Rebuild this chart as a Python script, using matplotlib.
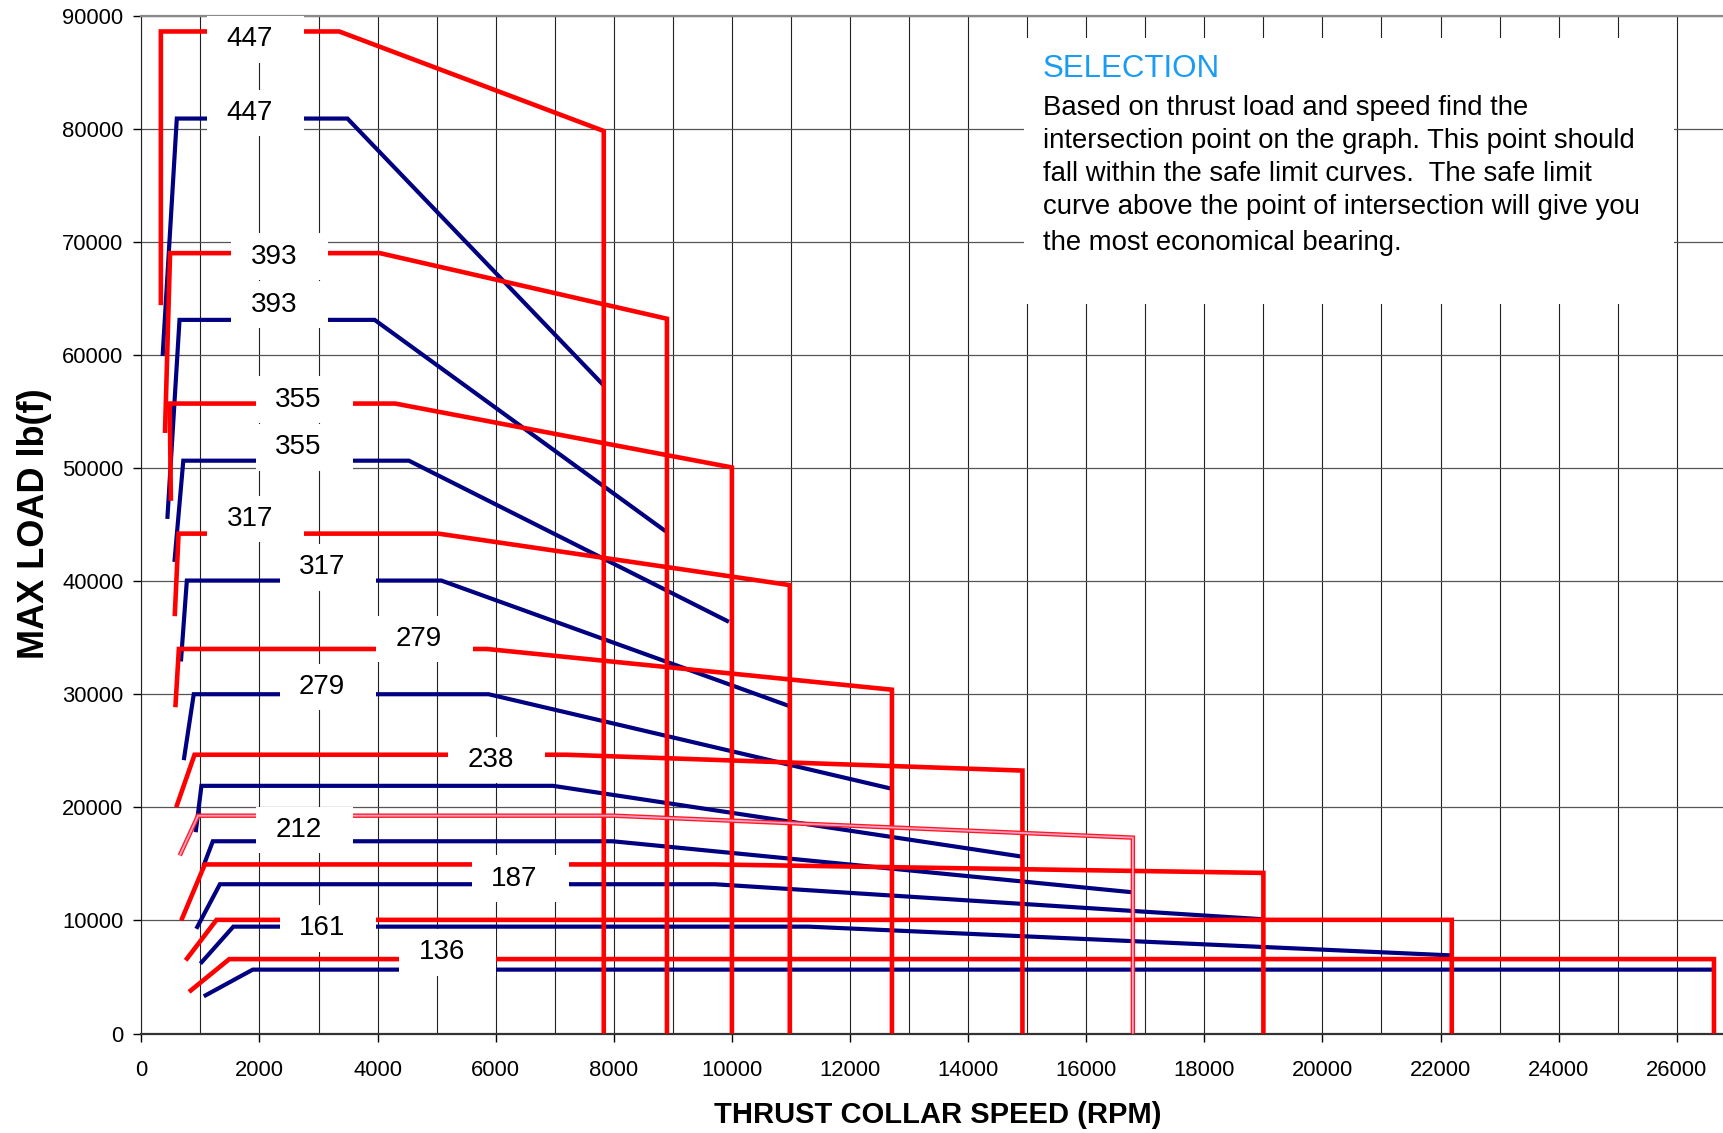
import matplotlib
matplotlib.use("Agg")
import matplotlib.pyplot as plt
from matplotlib.patches import Rectangle

plt.rcParams["font.family"] = ["Liberation Sans", "DejaVu Sans"]

# one entry per curve: start of the short ramp, knee, flat part, sloped part, limit
curve_kind = ["red", "blue"] * 5 + ["red", "blue", "pink", "blue",
                                    "red", "blue", "red", "blue", "red", "blue"]
start_rpm = [330, 360, 400, 440, 500, 560, 565, 670, 576, 718,
             590, 920, 650, 1050, 676, 930, 750, 1000, 807, 1057]
start_load = [64400, 59900, 53100, 45500, 47100, 41700, 36900, 32900, 28850, 24170,
              20000, 17800, 15740, 14800, 10000, 9260, 6470, 6180, 3680, 3290]
knee_rpm = [330, 600, 486, 646, 480, 710, 630, 770, 635, 887,
            900, 1017, 960, 1210, 1074, 1330, 1273, 1557, 1489, 1886]
flat_load = [88600, 80900, 69000, 63100, 55700, 50650, 44200, 40050, 34000, 30000,
             24650, 21900, 19260, 17000, 14950, 13200, 10050, 9450, 6580, 5650]
flat_end_rpm = [3350, 3490, 4040, 3950, 4300, 4530, 5030, 5080, 5850, 5880,
                7200, 6970, 8000, 7980, 9700, 9710, 22190, 11300, 26630, 26600]
limit_rpm = [7830, 7830, 8900, 8880, 10000, 9950, 10980, 11000, 12710, 12700,
             14920, 14900, 16790, 16760, 19000, 19000, 22190, 22170, 26630, 26600]
limit_load = [79800, 57300, 63200, 44400, 50050, 36400, 39650, 28900, 30400, 21650,
              23250, 15650, 17320, 12500, 14200, 10100, 10050, 6910, 6580, 5650]

label_text = ["447", "447", "393", "393", "355", "355", "317", "317", "279", "279",
              "238", "212", "187", "161", "136"]
label_rpm = [1930, 1930, 2340, 2340, 2757, 2757, 1935, 3160, 4790, 3160,
             6010, 2757, 6415, 3160, 5190]
label_load = [87900, 81400, 68700, 64450, 56050, 51830, 45490, 41210, 34870, 30650,
              24200, 17980, 13700, 9300, 7170]

note_title = "SELECTION"
note_lines = [
    "Based on thrust load and speed find the",
    "intersection point on the graph. This point should",
    "fall within the safe limit curves.  The safe limit",
    "curve above the point of intersection will give you",
    "the most economical bearing.",
]
note_line_load = [81830, 78910, 76000, 73080, 69870]

fig = plt.figure(figsize=(17.24, 11.33), dpi=100)
ax = fig.add_axes([0.082, 0.0878, 0.918, 0.8984])
ax.set_xlim(0, 26800)
ax.set_ylim(0, 90000)

ax.set_xticks(range(0, 26001, 2000))
ax.set_xticks(range(1000, 26001, 2000), minor=True)
ax.set_yticks(range(0, 90001, 10000))
ax.tick_params(axis="x", which="major", direction="out", length=6, width=1,
               labelsize=15.8, pad=13)
ax.tick_params(axis="x", which="minor", length=0)
ax.tick_params(axis="y", direction="out", length=6, width=1, labelsize=15.8, pad=7)

ax.grid(axis="x", which="both", color="#222222", linewidth=0.8, zorder=0)
ax.grid(axis="y", which="major", color="#555555", linewidth=0.9, zorder=0)
ax.set_axisbelow(True)

ax.spines["right"].set_visible(False)
ax.spines["top"].set_color("#8a8a8a")
ax.spines["top"].set_linewidth(1.6)
ax.spines["left"].set_color("#222222")
ax.spines["bottom"].set_color("#333333")
ax.spines["bottom"].set_linewidth(1.6)

# white panel behind the selection note
ax.add_patch(Rectangle((14950, 64500), 11000, 23500, facecolor="white",
                       edgecolor="none", zorder=1))

for i, kind in enumerate(curve_kind):
    xs = [start_rpm[i], knee_rpm[i], flat_end_rpm[i], limit_rpm[i]]
    ys = [start_load[i], flat_load[i], flat_load[i], limit_load[i]]
    if kind != "blue":
        xs.append(limit_rpm[i])
        ys.append(0)
    if kind == "blue":
        ax.plot(xs, ys, color="#000080", linewidth=3.0, zorder=2,
                solid_capstyle="butt", solid_joinstyle="miter")
    elif kind == "red":
        ax.plot(xs, ys, color="#ff0000", linewidth=3.3, zorder=3,
                solid_capstyle="butt", solid_joinstyle="miter")
    else:
        ax.plot(xs, ys, color="#ff1a1a", linewidth=3.2, zorder=3,
                solid_capstyle="butt", solid_joinstyle="miter")
        ax.plot(xs, ys, color="#ff9ccc", linewidth=1.3, zorder=3.1,
                solid_capstyle="butt", solid_joinstyle="miter")

for txt, x, y in zip(label_text, label_rpm, label_load):
    ax.add_patch(Rectangle((x - 820, y - 2050), 1640, 4100, facecolor="white",
                           edgecolor="none", zorder=4))
    ax.text(x - 100, y, txt, ha="center", va="center", fontsize=20,
            color="black", zorder=5)

ax.text(15260, 85320, note_title, ha="left", va="center", fontsize=22.5,
        color="#1a9cf2", zorder=5)
for line, y in zip(note_lines, note_line_load):
    ax.text(15260, y, line, ha="left", va="center", fontsize=19.8,
            color="black", zorder=5)

fig.text(0.544, 0.016, "THRUST COLLAR SPEED (RPM)", ha="center", va="center",
         fontsize=21, fontweight="bold")
fig.text(0.02, 0.538, "MAX LOAD lb(f)", ha="center", va="center", rotation=90,
         fontsize=26, fontweight="bold")

fig.savefig("out.png", dpi=100)
